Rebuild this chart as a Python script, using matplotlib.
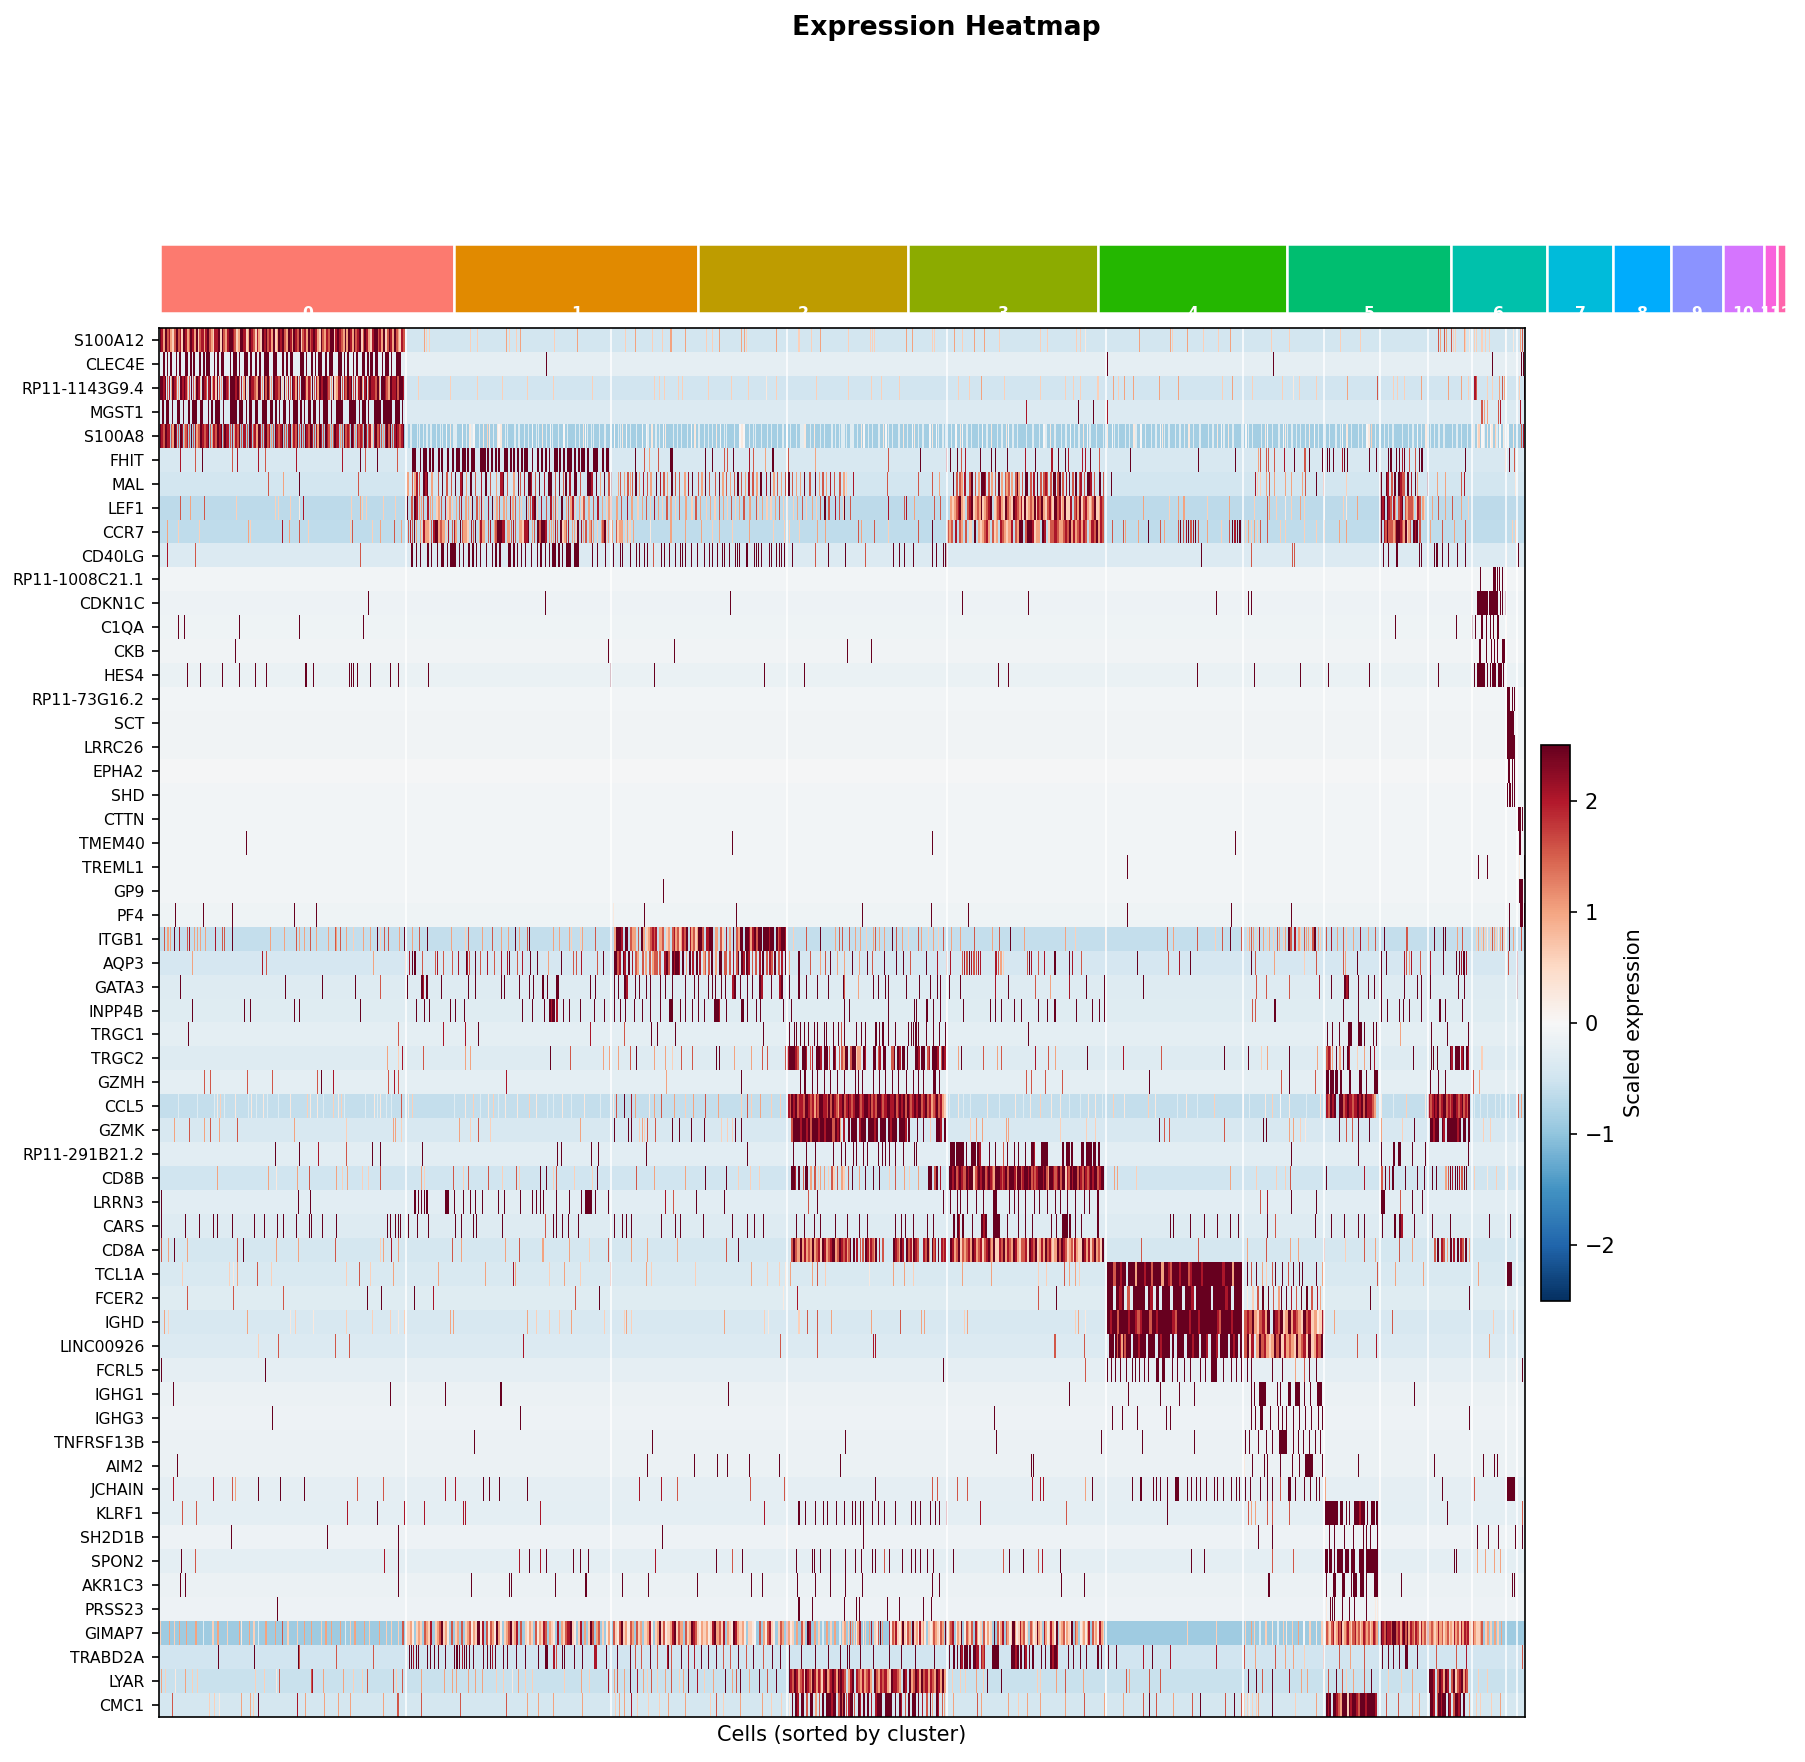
import numpy as np
import matplotlib
matplotlib.use("Agg")
import matplotlib.pyplot as plt
from matplotlib.patches import Rectangle

W, H = 1805, 1762
genes = ["S100A12","CLEC4E","RP11-1143G9.4","MGST1","S100A8","FHIT","MAL","LEF1","CCR7","CD40LG",
 "RP11-1008C21.1","CDKN1C","C1QA","CKB","HES4","RP11-73G16.2","SCT","LRRC26","EPHA2","SHD",
 "CTTN","TMEM40","TREML1","GP9","PF4","ITGB1","AQP3","GATA3","INPP4B","TRGC1",
 "TRGC2","GZMH","CCL5","GZMK","RP11-291B21.2","CD8B","LRRN3","CARS","CD8A","TCL1A",
 "FCER2","IGHD","LINC00926","FCRL5","IGHG1","IGHG3","TNFRSF13B","AIM2","JCHAIN","KLRF1",
 "SH2D1B","SPON2","AKR1C3","PRSS23","GIMAP7","TRABD2A","LYAR","CMC1"]
background = [-.45,-.22,-.48,-.35,-.85,-.4,-.45,-.65,-.63,-.35,
 -.07,-.13,-.1,-.09,-.17,-.07,-.08,-.09,-.03,-.07,
 -.07,-.07,-.07,-.07,-.11,-.6,-.42,-.33,-.3,-.25,
 -.33,-.24,-.6,-.4,-.26,-.5,-.26,-.33,-.43,-.38,
 -.31,-.41,-.35,-.22,-.15,-.12,-.15,-.14,-.22,-.25,
 -.13,-.24,-.14,-.13,-.88,-.47,-.55,-.44]
cluster_sizes = [489,405,348,316,314,271,160,110,96,86,68,22,15]
cluster_names = [str(i) for i in range(13)]
cluster_colors = ["#FC7A6F","#E18A00","#BE9C00","#8CAB00","#24B700","#00BE70","#00C1AB",
                  "#00BBDA","#00ACFC","#8B93FF","#D575FE","#F962DD","#FF65AC"]
levels = dict(a=2.5,b=2.05,c=1.55,d=1.0,e=.6,f=.25,g=0,h=-.3)

# Expression. Each gene has a reading over the first cells (L) and the later cells (R).
L = {}; R = {}
L["S100A12"]="10>568=abdacbdecacbeabdcabdaecbdbacdebbaeacdbaabcedaabedabcebdeabacbdaedabacdabdabcaecbdacbabdeacdbcaaebabcdadabdacbaecabdebaacbdaecabdacdebc 612d 616e 622e 716e 732e 797d 803e 821e 830d 906e 960d 1068e 1091d 1130e 1153e 1171d 1203d 1253e 1266e 1281d 1331d 1338d 1344e 1411d 1462e 1491e 1512d"
R["S100A12"]="18e 68e 72e 78e 151d 163d 208e 214e 260d 278e 303d 327d 362e 455e 471e 537e 545e 558f 681d 750d 755e 787d 824e 860e 886d 978e 1021e 1136e 1182e 1359c 1363d 1371c 1376d 1388c 1392e 1396e 1417d 1420e 1430f 1440e 1446e 1458e 1466e 1475e 1510f 1530f 1545d 1551c"
L["CLEC4E"]="14>560=.a.a.a..a.a..aa.a.a..a.a.aa..a.a.aa...a.aa.a..aa.a..a.a..aaa..aa...a.a.aa....aa.a..a.a.aa..a.aa...aa.a.a..a.a..aa.a.a.aa..a.aa.a..aaa 889"
R["CLEC4E"]="607 984 1480 1548 1553"
L["RP11-1143G9.4"]="10>568=aabacbdabcdababdcacdabeabcbadbeacdaabcaaabacbdaeabbcdabdacacdabbcaeadbcabdacaabdbcacbdabaabcdaedbacbcabacbebadbacabbcadaabcdabbacaab 598e 671e 732e 789e 845e 903e 992e 1133e 1145e 1158e 1187e 1197e 1258e 1308e 1347e 1387f 1410e 1501e"
R["RP11-1143G9.4"]="18e 71e 93e 135e 268e 293e 321d 373e 455e 510e 530e 545e 585e 619d 631e 645d 667d 725d 769d 868e 890d 936e 1005e 1030f 1042e 1081e 1152d 1221c 1257e 1266e 1282e 1320d 1381d 1412d 1428e 1440b 1443b 1446c 1470e 1481e 1497d 1503c 1508d 1544e 1555a"
L["MGST1"]="12>566=.a.aa.a..aa.a..a.aaa.aa..a.a.aaa.a...aaaa.aa.a.aa.aa..aaa.aa.a.a.aa.a.aaa.a.a.aa.aa.a.aaa.a..aaaa...aaaa.a.aa.a..aaaa.aaaaa.aaa.a"
R["MGST1"]="423b 540a 576a 607b 915f 1458c 1462d 1470d 1494c 1500b 1546b 1556c"
L["S100A8"]="10>568=abcabbcdabcabdcbcacbdcabcbacdbcabacabbcbdbcacbbcabcbdabcbacbdcabcbaccbadbcacbcabcabcbdabcabcdcabbdcacbcabdbcbcabcbebacbcdbacacbabcba 572>1568=h.h..hh.h.h.h..h.hh.g.f.hh..g.h.fhg..h.f.ef.h.fgf.hh...h.h..h.h.g.hh.f.h.gh..h..g.h...h.h.fgh.hh..h..h..h.g.hhf.g.h..h..g.gh.f.h.h.gf...h.h.h..h.g.f.h..h.h.h.f.g.hh...h..gfg..h.hh..h..h.h..h..h.g.h..h.hhf..h.f..h.h...h.h.h.h"
R["S100A8"]="3>1430=h.h.hh.h.fg.h.h..h.fgh.h..h.f.h.gf.h.h..gf.gh.hh..h.g.fg.h.h..h.g.h.f..h.h.fg.h.h...h..h..h.gh.f.h..h.h.g.h.h.f.gh..h..h.f.gh.h..h.h.fh.g.h..h.h.gfh.h..h.h.h.f.h..h...h.h.f.gh.f.h...h.gh.h...h.fg.h..h.gfh.h.h.h.h.f.g.h..h.h..h.hg.f.h..h.h.gfe.h.h.h.h.h...h..h.h.g.h.f.h.h.h.h...h.h.h..h 1436>1520=eh.fe.gh.f.gf.eh.g.fh.g 1530f 1548c 1553b"
L["FHIT"]="57b 92c 107a 176c 186b 233b 249c 319b 424b 467a 478c 505a 549c 584>1032=aa..a.aa.a.a..a.a..a..a.aa.aa.a.aa...aaa.a.a.a.a..aa.a.a.a.a.aa..a..a.a.a.a..aa.a.a.aaa.a.a.aa.a..aaa..a.aa 1090a 1110c 1123d 1142c 1171a 1174a 1250a 1267a 1292c 1300c 1314a 1350b 1360c 1385d 1401a 1405a 1438c 1500d"
R["FHIT"]="108c 183a 240b 250a 265a 276c 284b 317a 343a 353a 381a 421b 444a 479b 482b 494a 511a 518b 550b 558b 569a 587c 660a 814a 896a 949d 955c 969c 972c 986c 1008b 1031a 1054c 1057c 1065a 1095a 1107a 1112a 1120a 1141b 1145a 1152a 1202a 1217a 1246a 1249a 1253a 1263a 1270a 1277b 1282a 1293c 1306c 1316a 1319a 1322a 1421a 1510d 1519a 1532c"
L["MAL"]="258c 292d 328a 462c 574>1040=d.cdbc.aba.d..c.a.c.c.a.ba.d.a.c..b.a.c..d.ba.c..d.ac.b.ab.c.a.b.aa.c.a.ca.b.aa.c..aab.a.d.a.ca 1048>1568=.dc.d.cdc.a.d.b.c.d..a.b.c.d.a.c.c..d.b.a..c.d.a.c..c.a.d.c.d.c.a.c.d.b.c.d.a..b.a.d.c.d.c.a.c.d.d.a..c..a.d.c.d.b.c..c.d"
R["MAL"]="8d 14e 30b 107c 178c 208c 224d 256>600=a.c.cd.b..ca.c.d.aab.c.d.c.a.d.cdc.d.cad.c.aa.c.b.a.c.cbc.c.a.ca.c.b.a.c.a.cb.c.aab.c..a.c 616a 942b 947e 955e 969d 975c 986d 1010d 1025d 1050d 1057c 1080a 1097c 1150e 1228>1300=a..ab.c.a.abcc.a.b 1307a 1312d 1333a 1356d 1374d 1411c 1418b 1535f"
L["LEF1"]="56c 81d 110c 184e 274e 281e 306e 328f 337b 446e 465d 470e 480e 517e 546e 568>1040=ea.cabddc.bdd.edc.bede.dcb.ddea.cdbe.b.aedc.dd.bdc.de.adcbae.b.c.bdce.a.dcdbe.dec.d.c.b.d.edc 1044>1568=.d.c..b.d..e.d.c.e.b.d.e.c.d.e.c..d..e.c.d..e.d.e.c.d.e.c.e.d.c..d..ce.d.e.e.d.c.e.d..e.d.c.e..d.e.c.a.c..b.c.a"
R["LEF1"]="7e 22c 108b 146c 150b 168d 213c 226c 250>600#dedcbade.cbaedcdaedcba.edcbdeacdeabcdbeaedcdaebcadecbdeacbedaeeb.cbdaecbdedcaedbc 689d 747e 768d 780d 833e 884d 940e 970c 975d 990e 1010f 1025e 1045d 1055e 1100f 1142e 1150f 1175d 1228>1330#aba.abc.bd.cba.cdcccd.ebc.de 1345d 1360c 1375d 1390c 1410d 1428e"
L["CCR7"]="28d 53e 100e 210d 216e 288b 304d 327c 348e 444e 447c 493e 510d 544c 559d 575>1090=cbcad.debddecbaadcddeb.cbd.acdde.bca.dbdd.cb.dcaabb.ddcbc.ddebba.dc.acaab.dddbc.aedcb.ddea.bdc.dcd.e.dcaeddd.cedd.ede.d 1124f 1171d 1203d 1240d 1265e 1281d 1310e 1350d 1403e 1430e 1440e 1463e 1505d 1523d"
R["CCR7"]="40c 47d 78c 108e 178c 208a 242>600#cdc.b.cd.c.e.a.dedcbd.ced.bcdedb.cdaa.caabedd.ab.eccbcddcbcadbdcbdbc.dbcadbc 617c 642c 647d 677d 700a 728c 737d 768>815=c.a.c.b.a.c.b.a.c 833d 867e 884c 890>910=a.b.a.a 920>950=e.d.e.d.e 955c 970c 1000e 1012e 1055e 1080e 1099d 1135d 1150d 1228>1320#a.bcacccdcaabcdaedc.aba.c 1340d 1367c 1395d 1420c 1527e 1535e"
L["CD40LG"]="28b 92c 466c 583>965=a.a.a...a.a..a.aa.a.aaa.a.a..a.a.a.a..a..a.a.a...aa.a.a.a.a..a..a.a.a.a.aa.a.a.aaa.aaa 992 1004 1022 1040 1056a 1062 1078 1093 1100 1112 1118 1132c 1150 1158 1168 1180 1192 1198 1205 1218 1232 1247 1260 1266 1276 1287 1292 1303 1318 1322 1328 1342 1345 1362 1366 1370 1376 1395 1400 1412 1418 1423 1430 1447 1500c 1530"
R["CD40LG"]="11 56c 121 133 146 165 209 217 234 238 241 821 935c 1027c 1031c 1234 1246 1263 1266 1315 1321 1335f 1350 1354 1357 1368 1380 1402 1420 1513f 1540"
L["RP11-1008C21.1"]=""; R["RP11-1008C21.1"]="1455 1483 1486 1489 1493 1497 1504 1511f"
L["CDKN1C"]="485 886 1307"; R["CDKN1C"]="278 428 855 927 933 1435f 1448-1472 1475-1495 1499 1504 1510"
L["C1QA"]="53 67 192 328 474"; R["C1QA"]="1262 1399 1437 1444 1458 1467 1477 1483 1493-1497 1513f"
L["CKB"]="183 1030 1178"; R["CKB"]="15 71 1452-1458 1467 1478 1486 1493 1504-1510"
L["HES4"]="73 103 153 192 228 253 340 344 360 440 445 450 460 490 535 553 619 1035 1133 1383 1473"; R["HES4"]="360 382 810 941 1046 1109 1201 1360 1441 1447-1466 1470 1476 1482-1490 1494-1503 1507"
L["RP11-73G16.2"]=""; R["RP11-73G16.2"]="1516-1522 1528 1532"
L["SCT"]=""; R["SCT"]="1516-1532"
L["LRRC26"]=""; R["LRRC26"]="1516-1534"
L["EPHA2"]=""; R["EPHA2"]="1517 1521 1527 1531"
L["SHD"]=""; R["SHD"]="1516 1521-1525 1528 1532"
L["CTTN"]=""; R["CTTN"]="1541-1548 1551 1556"
L["TMEM40"]="206 1312"; R["TMEM40"]="209 898 1544 1546"
L["TREML1"]=""; R["TREML1"]="653 1451 1469 1542f 1555-1557"
L["GP9"]="1155"; R["GP9"]="1543 1545-1552"
L["PF4"]="46 108 176 315 365 1040f 1110 1321"; R["PF4"]="51 206 292 653 887 1024 1521 1545-1552 1555-1558"
L["ITGB1"]="20c 27d 30d 34d 44a 55b 72c 77b 88d 97d 104d 114d 137b 152c 156c 176a 261d 293d 321c 326d 338d 352c 366d 393d 408c 412d 420c 434d 450e 474d 490d 503a 510e 520c 530c 555d 566a 585d 600c 617a 673d 703e 711c 743d 766c 786d 801d 818a 826d 845c 850a 903d 917d 940d 945e 966e 971d 1000c 1043>1435=daaab.aa.cdd.c.ad.edcbcb.ddc.ed.cbdcedbca.bdcedaac.bbaa.dd.ce.b.d.a.cdaa.aabdbacaa.aaabaa.acbaab 1450e 1478c 1510a 1546d 1555c"
R["ITGB1"]="5c 20c 33d 45d 60e 75d 80c 88d 100d 118a 128c 140d 155e 178c 185d 200e 212d 222e 235c 252d 273d 303c 346d 362c 387a 418d 512d 533e 601e 742c 757d 810c 853e 868c 885a 910c 925>1095=edcd.eb.d.ed.e.cd.ed.ac.b.de.cddeca.de 1105c 1116b 1130d 1142c 1150e 1165d 1180b 1200d 1215c 1236 1285c 1288c 1350 1370 1375 1401d 1414c 1446>1512=e.d.e.d.e.f.e.c.d.e.f.d.c.e 1520 1530d 1548c"
L["AQP3"]="85d 242b 253c 494d 568d 578b 584a 590a 607c 636c 640b 655c 676c 689b 706>716=ab.c 727a 739c 755b 770c 786b 800b 805a 822c 835b 853a 868a 893d 922a 951c 956c 968b 1005c 1017a 1043>1435=aacb.ab.a.b.cd..c.d.c.dcc.c..bac.abaab.a.d.a.b.a.b.dc.c.a.d.aa.cc.c.b.ca.ab.ab.c.c.b.a.c.bc.a.c.b.a 1440d 1462a 1488c 1510d 1523c 1535a 1549d"
R["AQP3"]="8d 28 42d 62 72c 100 128 142 160c 195 220b 240c 250b 278>320=c.b.c.a.b.c.c.b.b 353>373=b.c.d.e 424>435=c.a.b 450c 463b 487 520>530=a.b 548c 675 745c 771b 794 935 943c 986d 1055e 1080c 1142c 1147d 1175 1230 1241 1280>1300=b.c.d.b 1318c 1340b 1370 1400>1425=a.a.b.a.b 1518c 1538b"
L["GATA3"]="58 296 380 455 510c 574 600>620=.ab.a 651 712 728 786 793 828 850 860 880 890 910>917=aa 987 1000 1042 1052 1065>1075=aab 1090 1100 1115 1125 1147 1160 1175 1205 1225 1235 1258 1265 1272 1285 1295 1312>1320=ba 1330 1345 1358 1372>1380=ab 1400 1418>1428=ba 1440 1462 1478 1503 1530 1562"
R["GATA3"]="8c 40d 75 86 102 108 150 180 205 220 226 248 273 352b 383 443c 478d 520b 560 600 689 945c 968c 1021c 1087b 1115 1145>1158=aba 1177 1199 1213 1230 1280 1310 1320 1340 1403 1418 1538"
L["INPP4B"]="85 202 216 315 328 466 593 610 623 671 682 702 833 857 883 895>915=abaa.b 927 940 967 998 1021 1042 1057 1068 1087 1107 1125 1148 1168>1180=aa 1193 1205 1220 1233 1248 1270>1285=aab 1297 1332>1350=aa.a 1365 1373 1428 1446"
R["INPP4B"]="8 20 108 168 173 197 210 226 240f 281 340 352 365 395 412 449 470 487 537 574 589 600 937c 943c 985 989 1142 1176 1230 1243 1270 1278 1292 1320 1362 1375 1414"
L["TRGC1"]="76 552c 655b 704b 735 987b 1066c 1128 1140 1180 1380 1440 1452 1458 1465 1475 1484 1498 1504 1520 1524 1540 1552 1564"
R["TRGC1"]="2c 37 48 58 80>100=a.a.a 108 125 155>180=a.a.a.a.a 195 212 225 238 426 1107 1118 1135 1155>1165=aa 1177>1195=aa.a 1210 1218 1271d 1343 1378 1428"
L["TRGC2"]="526d 552e 562b 608c 704d 716d 896 944c 1017d 1032d 1052d 1078c 1092 1133d 1159d 1175e 1195c 1221c 1275 1280 1315d 1355d 1378c 1390c 1432>1568=cbaaabc.aab.cb.aab.aac.ab.caa"
R["TRGC2"]="2>60=cdaa.caaedd.ab 75>105=aa.cb.aa 115>155=cca.aab.aa.a 170>240=aab.aa.cb.aaab.cab 268d 275 325c 358d 367c 443b 474c 489d 562 644b 730c 873 927 958e 970d 1021 1083d 1105>1160=cbcd.a.d.a.ab 1175e 1190d 1205 1214b 1301 1342 1348 1356 1385>1430=ab.aaa.ba.ab 1458e"
L["GZMH"]="112c 124c 208c 267c 368c 378 405b 529c 544b 553c 798b 1162d 1332 1464 1475>1480=a 1493 1505 1520 1535 1550"
R["GZMH"]="8 35 40 50 76 90 102 117 132 150 165 178 190 210>218=aa 225 423c 435c 466c 503-507c 701 1001c 1021 1078c 1103>1140=aa.aa.aa.a 1156>1162=aa 1178>1185=aa 1195 1213>1222=aaa 1340 1360 1375 1438c 1452d"
L["CCL5"]="53h 96h 133h 140f 148e 156h 183f 210h 218f 230h 245f 254h 280h 307f 345e 352f 368f 382h 405e 415f 422e 430h 477h 497f 505h 512f 525h 536h 560c 576f 584e 680h 703f 722e 738h 757f 768e 780h 795f 823f 850e 865f 890h 905h 925f 945h 975f 1010h 1040f 1048c 1065 1080b 1090d 1122f 1135d 1150c 1178d 1205e 1222d 1250c 1278d 1332e 1345c 1355e 1375d 1400e 1420e 1438>1568#bcabacbbcaabcbdbcaabbcacabcdbca"
R["CCL5"]="0>240#bacbabcbaabcbaabacbcaabcbaabbacbabacabcbabaacbacbdcbacbde 248h 268f 280h 295h 333f 362h 398f 415h 432f 455e 480f 500f 520h 545h 563f 580f 595h 620e 645f 700e 716f 765h 785f 810h 850e 915f 930h 965f 980e 1000g 1020f 1060h 1090f 1103>1218#bcaba.aacbabcbabacabbcd 1230f 1258h 1285e 1330f 1337>1432#bcbabacbaacbcbaabcbacbca 1440h 1455h 1470h 1487h 1500h 1520h 1540c 1548d"
L["GZMK"]="42d 78c 110d 125c 146d 186c 315d 433e 540d 546d 560e 691d 715e 735c 762e 965d 1042 1075 1081 1100>1120=e.d.e.c 1137c 1175 1190 1218 1247 1285e 1300e 1312e 1318 1332 1445>1568#caaabaabacaaabaabaaacaba.b"
R["GZMK"]="0d 17>160#a.aaa.baaa.aaaba.aaa.abaaa.aaab.a 175 190 205e 218>240#aab.a 295e 308d 323d 378d 383d 500e 560e 580e 725 737c 748c 873c 962 968 1020d 1030d 1046e 1056f 1133 1149c 1163c 1177 1202 1230d 1277e 1303 1340>1432#aabaa.ab.aaaaaba.aa.a 1460e 1476e"
L["RP11-291B21.2"]="274 326 371b 433c 493 510 607 914 923 990 1006 1115 1346 1450 1478 1500 1540"
R["RP11-291B21.2"]="2 10 30 36 52 62 87 95 102 110 125 142 168 174 250>290=aaa.aaaaa.a 296>320=aaa.ab 338 352 370c 380 395 405 420 435>445=ab 458>475=aaa 505>530=a.aa.a 548>590=aa.aaaa.aa.a 1024 1177 1230 1258>1275=a.aa 1300 1330 1428"
L["CD8B"]="140d 258d 275f 322d 350c 410d 425e 437d 470e 485e 510c 604d 612e 678c 700e 711c 756c 788e 821c 828e 876 888 905e 912c 953e 992e 1005 1093c 1135d 1203d 1250 1296 1325e 1352e 1372e 1445>1568=aab.a.caa.d.c.ed.d.e.ce.c.de"
R["CD8B"]="4d 18c 28 42d 58 75 88 112e 125c 145d 158e 178d 200>232=aa.ca.b 248>600=aabacbabccabaaecbabaacbabcdaaabcbacaaabdaacbaabacbcbaaabacdaabcbacaaebcabaacabcabcbabaacbaa 622d 630d 674e 886d 945e 990e 1010e 1022c 1103 1190b 1230>1260=c.a.b.a 1283 1310 1328 1345 1355 1375>1425=d.c.a.b.a.a.b.c.a.a 1440e 1470f 1490e 1515f"
L["LRRN3"]="14 325 352 590>620=a.a.a.a.a 660>670=aa 680 700 715 728 742 780 792 830 857 865 875 882 912 940 968 977>995=aaaa 1000 1030 1160b 1176c 1230 1292 1483c 1503"
R["LRRN3"]="235 250 265 272 288 308 325 348>356=aa 385 395 405 420 440 452 470 488 500 515 535 555 567 585 955c 971b 1024 1081 1230>1240=aa 1271c 1300 1322"
L["CARS"]="14 68 100 132 140 175 225 248 278 292 321 350 355 380 410 527 533 546 552 558 575 595 620 682 695 722 730 787 885c 905 912 925 938 962 1042 1062 1070 1082 1150 1180 1192 1245 1312 1345 1362 1382 1458 1475 1497 1512 1545"
R["CARS"]="15 42 62 125 138 148 165 198 212 258>282=a.ab.a 300 320>335=aba 348>365=aaaa 380 405 420 437 480 490 505>525=aaa.a 535 548 585 750 758 794 826 858 885 903 970 987c 1078 1115 1145 1176 1190 1232 1260>1280=a.ab 1305 1345 1385 1475 1522"
L["CD8A"]="14c 30d 44 73d 187c 200 275d 325d 408c 510e 517d 537b 553d 676c 695d 794d 826c 880d 941d 985e 1030c 1080d 1117d 1185d 1297c 1325 1445>1568#cacdadbdcdadcbeabdcbadcadb"
R["CD8A"]="0>48#abcbdca.a.b.c 50>100#c.abdbcda.b.c 120>180#abcdab.acbeabc 190>240#bcad.acb.a.bcb 250>600#abdcaecdcbdabdcbecbacdaeebcadbcdabdeccbeabcaedbdacbdedacabcedcebdeeabdbecadcea 684c 814c 925d 968c 1022d 1040d 1100c 1148e 1190c 1215d 1270c 1300d 1350>1425=c.a.bc.d.a.b.a.bc.a 1430d"
L["TCL1A"]="62e 168e 177f 186d 232c 263e 435e 463c 490e 540d 644d 749d 813b 817d 894e 930d 965e 1033c 1115d 1126e 1227e 1354d 1390e 1418e 1432f 1444d 1492d 1505c 1522e"
R["TCL1A"]="66f 121d 146d 167e 278d 342d 449e 469e 508c 521d 533d 543e 606>914#aaacaabaa.aaadaaabaacaaaadaabcaaabaaacbaaaabaaaaaaaaabaaadaaaa 925 935c 945 960d 968e 980c 987 1003 1018c 1030 1042 1050 1080 1095d 1220c 1262d 1325d 1450d 1515-1527"
L["FCER2"]="73c 178c 292c 483 513 589 632b 955c 1008 1428f 1459b"
R["FCER2"]="449c 490 607>914#aa.aba.c.aaaa.ab.a.aaa.aaa.aab.aaaaa.aaaaba.aaa 925>1095=f.e.c.a.a.c.da.a.b.c.a.a.c.bd 1205 1430"
L["IGHD"]="20d 30e 208d 307f 318e 360f 435e 493e 535e 552f 565e 671d 678d 846d 865e 894e 917e 946d 1019e 1066e 1071d 1080e 1293d 1384e 1392f 1462e 1480c 1505c 1537d"
R["IGHD"]="71d 137c 185d 191d 283e 289d 535e 540d 557f 607>914#abaacaaaabaabcbaaacaabaaaaaabcaaaaabaaabaaaaaaabcaaaabaaaa 918>1100#cbcadecbda.abcaedadbcdeacbedfeb 1123d 1255c 1484e 1529e"
L["LINC00926"]="233e 281c 408c 440c 837b 1421c 1505c"
R["LINC00926"]="76b 80b 487c 555c 607>650#.aaa.acabdac 650>914#aa.aabaa.aaa.abaaa.a.aaa.aabaa.aab.aab.aaa.aba.a 918>1098#caeb.dacbdedacaebdcdeadcbeaedbca 1174c 1217b 1474d"
L["FCRL5"]="14 249"
R["FCRL5"]="233 558c 607 615 624 637 650 664 670 680 690 700 718>740=aa.aa 755 765 782 795 818 830 842>856=aaaa 870 888 900 910 925 934 982 1005 1035d 1055c 1065 1080 1537f 1550"
L["IGHG1"]="40 533 660 785 1301"
R["IGHG1"]="520 655 726 771 805 933 940 952>968=aaaa 993 1000 1017>1024=aa 1035>1045=aaa 1055 1068 1083>1095=aaaa 1303"
L["IGHG3"]="265 830"
R["IGHG3"]="351 618 640 675 740 751 933 942 955>962=aa 976 995 1003 1014 1030 1042 1056 1070 1085 1095 1430"
L["TNFRSF13B"]="724 1130"
R["TNFRSF13B"]="12 355 592 685 805 920 930 950 968 980 998>1017=aaaa 1030 1040 1052 1065 1078 1090"
L["AIM2"]="49 1117 1224 1276 1300 1351 1417 1556"
R["AIM2"]="433 439 917f 937 963 971 1000 1026 1043 1057>1075=aaaa 1094 1176 1351 1461 1485 1492"
L["JCHAIN"]="40b 131b 176c 183d 235 285 338 460c 517c 660b 683b 746 760 783 846 1099b 1149b 1185c 1353c 1430c"
R["JCHAIN"]="81 208c 219c 267c 290c 437b 455b 462b 558d 574 664 683 711 717 728 743 762>770=aa 787 796 808 818 831 850 857 871 888 900 906 920 932 955 971 982 1000c 1017>1025=aa 1035 1055 1068 1080 1088 1102d 1225f 1367 1440c 1516-1534"
L["KLRF1"]="62c 94c 437b 503 567b 610b 700b 704b 876b 1383b 1462 1476 1499 1517 1527 1547 1565"
R["KLRF1"]="8 28 34 46 52 72 87 100 124 162 170 182 204 216 225 240b 317b 513c 744 928c 933d 944d 970c 982c 1021c 1102>1142#aaaaa.a 1150 1158 1168>1200#aaabaaa.a 1207>1222#aa.a 1378 1550c"
L["SH2D1B"]="174 392 553 1152 1435f"
R["SH2D1B"]="53 949 982 1100f 1110 1122 1145 1165 1187 1195 1205 1220 1448 1471 1494 1533 1550"
L["SPON2"]="60 92c 521b 553 827b 849 876b 889 951 967 984 1137b 1274 1312c 1334 1456 1492 1497 1510 1535"
R["SPON2"]="12 34 48 72 80 100c 110 140 162 170 183 198 212 258 371c 385 415 451c 460b 499 796 826 982c 1030c 1102>1125#aa.aa.a 1130>1170#aaa.aa.aa 1178>1222#aaa.aaaaaaa 1394 1400 1448d 1464d 1485d 1499d"
L["AKR1C3"]="58 69 553 718 803 808 908 978 1062 1121 1231 1354 1378 1460 1499 1535 1567"
R["AKR1C3"]="10 51 208 224 501 555 974 1105 1120>1128=aa 1140>1150=aa 1162 1165>1178=aa 1180>1190=aaa 1195>1200=a 1213>1222=aaa 1274 1527 1532"
L["PRSS23"]="278 1462 1492"
R["PRSS23"]="8 36 44 106 135 190 206 1103f 1113 1118 1122 1140 1156 1168 1195 1215f 1221f"
L["GIMAP7"]="10>568=e...d.e.d..d...d..h...e.d...e....df..d.e.h..d...d..c.e...e..d..d...e.d.d...d.h.e.d...d.e...d..e.e..e.c 570>1035#eedf.ede.cdeb.edcaedf.c.ed.c.edcfdeafb.cfcdfadf.edcaedb.c.efde.cfdebc.def.b.decbaef.eb.d.eac.dc.e.fd 1040>1568#cefcaedfcd.ced.edbf.edaecfedbaecd.cedabcefdedfebadceb.defabdedf.eefg.c.dfcbef.ecd.bdfe.d.ce.ab.d.e.h.d.e.d.h.e"
R["GIMAP7"]="5>100=ed.ecdefdb.fe.db.efcad 110>600=bfcdbefdaefcd.aedfbedf.efecdefcd.afdcb.fdea.fcdec.bdfe.cfdfe.a.cfdb.cdfeadfebdcfe.cdfeade.bdfebdfa.edcfdefa.cd.fedfdb.cedfbde 787e 855e 920>1100=e.de.h.e.f.h.ef.e.d.g.e.f.e 1100>1222#fcdecbedbcaedcbdecbdcedbcdcedbcd 1228>1505#abcabbcaacbdbacadbcdbcebdceadcdedbdcedcedebdcebdbcbedcdeedc.ed.e.d.e.d"
L["TRABD2A"]="142 224 324 328c 412c 494c 571f 578>600=a.a.b.a.a 617 625 633 643 660 680>715=a.a.a.b.a.a.a 722 745 755>775=a.a.b.a 790 800 820 840 870 885>892=aa 905>915=bc 925 930 952 970 997>1007=bb 1025 1050 1078 1090c 1105c 1125 1140c 1163>1175=ba.c 1195 1212b 1225b 1240 1258 1275 1290c 1307c 1325 1343c 1360 1380c 1401 1420 1440 1468 1500 1530 1557"
R["TRABD2A"]="15 20 46 75 112 138 170 214 248 258>330=a.a.ab.aa.a.aabb.bcb 345>362=aaaa 390>440=aaba.a.ab.a.a 458 465 478>497=abab 518 530 545 560 585 592 608 628 688b 708 750b 855b 918c 942d 988c 1010d 1030d 1055e 1097c 1133c 1160d 1190c 1232 1245 1258 1270 1283>1290=aa 1310 1355c 1400c 1422b 1550c"
L["LYAR"]="14d 22e 45f 68d 84e 96e 228e 248e 275f 282c 354c 358b 382d 428d 450e 470e 483c 541c 548e 562c 604d 658d 676d 684d 712d 727d 743d 775e 790e 810f 825d 840e 857e 930e 968d 985e 1030b 1043d 1050c 1065d 1078a 1095b 1108d 1118e 1128c 1140e 1160d 1172c 1190e 1200d 1212a 1232b 1248e 1268d 1294a 1312d 1320c 1330a 1350d 1372a 1390c 1412a 1440>1568#abcabdcbeabcdabdbcebadcbabdabec"
R["LYAR"]="0>240#abc.dba.bcdbdcbd.acdbcbdeabbcd.ab.adcabdacbdbcdabdad 255e 273e 285e 308d 325e 335 367 447e 455e 490d 510c 553d 601f 651c 658d 702c 727c 928 945 960c 982 1021b 1047d 1062d 1100e 1108c 1128 1140c 1150e 1165d 1190c 1207 1245e 1275e 1300d 1338>1428#aab.cabdab.caecbadbc 1450e 1470e"
L["CMC1"]="38c 123e 135e 145f 197d 216d 222e 235 322b 340d 385d 415d 442d 517d 550c 553c 605c 692c 796c 845d 871d 903d 970d 1045e 1055d 1065d 1082b 1095e 1120e 1145e 1165d 1205d 1262e 1275c 1290e 1330d 1378d 1400e 1422e 1440f 1447>1568=a.ab.aa.c.aa.d.c.a.aaabaa.caaa"
R["CMC1"]="0>240=ac.cbaac.ab.a.a.b.baaa.aaaa.a.ab.c.a.aa.a.b.c.ad.ab.cd 256d 310c 320d 382d 405e 425d 455d 512d 555c 600d 642d 688c 702 718c 758d 800c 817 875c 895 912c 918e 925e 930f 937e 945e 950d 982 1035e 1080d 1104>1220#aba.aabcdaaaeabaabcaaabaaaaab 1240c 1267c 1300d 1316d 1340>1420=aab.cabaa.ab.caaba.a 1430d 1445e 1455e 1478e 1500d"

N = sum(cluster_sizes)
expr = np.tile(np.array(background)[:, None], (1, N))
def left_cell(p): return 0.87 * p - 8
def right_cell(p): return 1346 + 0.87 * p
def fill(row, a, b, v):
    i = max(int(round(a)), 0); j = min(max(int(round(b)), i + 2), N)
    expr[row, i:j] = v
def paint(row, text, cell):
    for tok in text.split():
        if "=" in tok or "#" in tok:
            solid = "#" in tok
            span, s = tok.replace("#", "=").split("=")
            a, b = [float(x) for x in span.split(">")]
            step = (b - a) / len(s)
            for k, ch in enumerate(s):
                if ch != ".":
                    nxt = s[k + 1] if k + 1 < len(s) else "."
                    joined = solid or step <= 4.2 or (ch in "ab" and nxt in "ab")
                    width = step if joined else 3.0
                    fill(row, cell(a + k * step), cell(a + k * step + width), levels[ch])
        else:
            v = levels["a"]
            if tok[-1].isalpha():
                v = levels[tok[-1]]; tok = tok[:-1]
            if "-" in tok:
                a, b = [float(x) for x in tok.split("-")]
                fill(row, cell(a), cell(b), v)
            else:
                c = cell(float(tok)); fill(row, c, c + 2, v)
for r, g in enumerate(genes):
    paint(r, L[g], left_cell)
    paint(r, R[g], right_cell)

fig = plt.figure(figsize=(W / 150, H / 150), dpi=150)
def axes_px(x0, y0, x1, y1):
    return fig.add_axes([x0 / W, 1 - y1 / H, (x1 - x0) / W, (y1 - y0) / H])

ax = axes_px(159, 328, 1525, 1717)
im = ax.imshow(expr, aspect="auto", cmap="RdBu_r", vmin=-2.5, vmax=2.5, interpolation="nearest")
edges = np.cumsum(cluster_sizes)
for e in edges[:-1]:
    ax.axvline(e - 0.5, color="white", lw=0.8, alpha=0.9)
ax.set_yticks(range(len(genes)))
ax.set_yticklabels(genes, fontsize=7.5)
ax.set_xticks([])
ax.set_xlabel("Cells (sorted by cluster)", fontsize=10, labelpad=4)

top = axes_px(160, 244, 1786, 313)
top.set_xlim(0, N); top.set_ylim(0, 1); top.axis("off")
start = 0
for name, size, col in zip(cluster_names, cluster_sizes, cluster_colors):
    top.add_patch(Rectangle((start, 0), size, 1, facecolor=col, edgecolor="white", lw=1.2))
    top.text(start + size / 2, 0, name, ha="center", va="center", color="white",
             fontsize=7.5, fontweight="bold", clip_on=True)
    start += size

cax = axes_px(1541, 745, 1570, 1301)
cb = fig.colorbar(im, cax=cax)
cb.set_ticks([-2, -1, 0, 1, 2])
cb.ax.tick_params(labelsize=10)
cb.set_label("Scaled expression", fontsize=10, labelpad=4)

fig.text(946 / W, 1 - 28 / H, "Expression Heatmap", ha="center", va="center", fontsize=12.8, fontweight="bold")
fig.savefig("out.png", dpi=150)
